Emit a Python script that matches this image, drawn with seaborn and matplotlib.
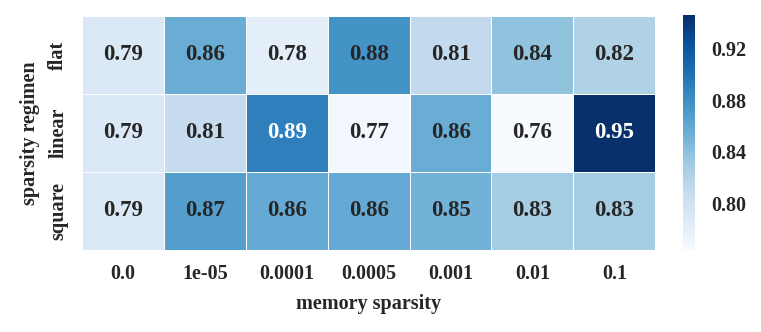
import numpy as np
import pandas as pd
import matplotlib
matplotlib.use('Agg')
import matplotlib.pyplot as plt
import seaborn as sns

# memory sparsity (columns) and sparsity regimen (rows)
sparsity = ['0.0', '1e-05', '0.0001', '0.0005', '0.001', '0.01', '0.1']
regimen = ['flat', 'linear', 'square']

flat = [0.790, 0.856, 0.782, 0.877, 0.812, 0.838, 0.822]
linear = [0.790, 0.808, 0.891, 0.768, 0.856, 0.764, 0.946]
square = [0.790, 0.868, 0.858, 0.858, 0.852, 0.828, 0.828]

df = pd.DataFrame([flat, linear, square], index=regimen, columns=sparsity)

sns.set_theme(style='white')
plt.rcParams['font.family'] = ['Liberation Serif', 'DejaVu Serif']
plt.rcParams['font.weight'] = 'bold'

fig = plt.figure(figsize=(7.61, 3.32), dpi=100)
ax = fig.add_axes([0.108, 0.247, 0.753, 0.705])
cax = fig.add_axes([0.8975, 0.247, 0.0158, 0.708])

sns.heatmap(df, ax=ax, cbar_ax=cax, cmap='Blues', annot=True, fmt='.2f',
            linewidths=0.6, linecolor='white',
            annot_kws={'fontsize': 16.5, 'fontweight': 'bold'})

# only the darkest cells get white text
for txt in ax.texts:
    txt.set_color('w' if float(txt.get_text()) >= 0.885 else '.15')

ax.set_xlabel('memory sparsity', fontsize=14.5, fontweight='bold', labelpad=7)
ax.set_ylabel('sparsity regimen', fontsize=14.5, fontweight='bold', labelpad=6)
ax.tick_params(axis='both', length=0, labelsize=14.5, pad=10)
ax.set_yticklabels(regimen, rotation=90, va='center', fontweight='bold')
ax.set_xticklabels(sparsity, rotation=0, fontweight='bold')

cax.set_yticks([0.80, 0.84, 0.88, 0.92])
cax.set_yticklabels(['0.80', '0.84', '0.88', '0.92'], fontweight='bold')
cax.tick_params(length=0, labelsize=14.5, pad=12)

fig.savefig('out.png', dpi=100)
